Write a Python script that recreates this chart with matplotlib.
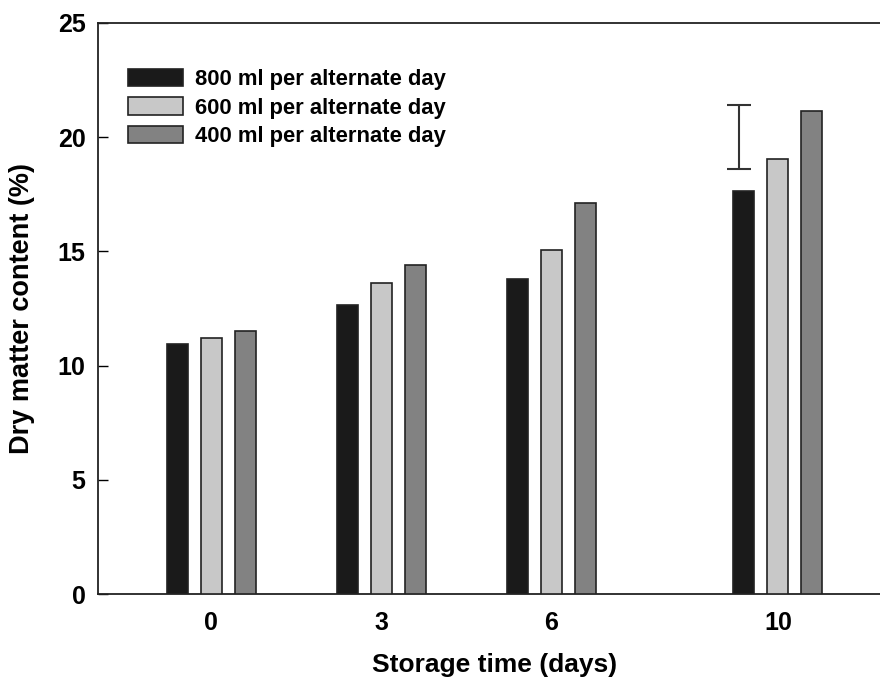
import numpy as np
import matplotlib
matplotlib.use('Agg')
import matplotlib.pyplot as plt

plt.rcParams['font.family'] = ['Liberation Sans', 'DejaVu Sans']
plt.rcParams['font.weight'] = 'bold'

# 数据
days = [0, 3, 6, 10]
labels = ['800 ml per alternate day', '600 ml per alternate day', '400 ml per alternate day']
dm_800 = [10.95, 12.64, 13.81, 17.66]
dm_600 = [11.20, 13.60, 15.06, 19.04]
dm_400 = [11.53, 14.42, 17.10, 21.15]
# 单独的误差棒 (LSD)
lsd_x = 9.31
lsd_y = 20.0
lsd_err = 1.39

colors = ['#1a1a1a', '#c8c8c8', '#828282']
offsets = [-0.6, 0.0, 0.6]
width = 0.37

fig = plt.figure(figsize=(8.8, 6.86), dpi=100)
ax = fig.add_axes([98 / 880, 92 / 686, (891.2 - 98) / 880, 571 / 686])

x = np.array(days, dtype=float)
for vals, c, off, lab in zip([dm_800, dm_600, dm_400], colors, offsets, labels):
    ax.bar(x + off, vals, width=width, color=c, edgecolor='#222222', linewidth=1.2,
           label=lab, zorder=3)

ax.errorbar([lsd_x], [lsd_y], yerr=[lsd_err], fmt='none', ecolor='#333333',
            elinewidth=1.5, capsize=8.5, capthick=1.5, zorder=4)

ax.set_xlim(-2, 12)
ax.set_ylim(0, 25)
ax.set_xticks(days)
ax.set_yticks([0, 5, 10, 15, 20, 25])
ax.tick_params(axis='y', direction='in', length=7, width=1, pad=9, labelsize=18)
ax.tick_params(axis='x', length=0, pad=12, labelsize=18)
for s in ['left', 'bottom', 'top']:
    ax.spines[s].set_linewidth(1.3)
    ax.spines[s].set_color('#222222')
ax.spines['right'].set_visible(False)

ax.set_xlabel('Storage time (days)', fontsize=19, fontweight='bold', labelpad=13)
ax.set_ylabel('Dry matter content (%)', fontsize=19.5, fontweight='bold', labelpad=16)

ax.legend(loc='upper left', bbox_to_anchor=(0.027, 0.935), frameon=False,
          fontsize=15.8, handlelength=2.5, handleheight=0.85, handletextpad=0.55,
          labelspacing=0.32, borderaxespad=0)

plt.savefig('out.png', dpi=100)
